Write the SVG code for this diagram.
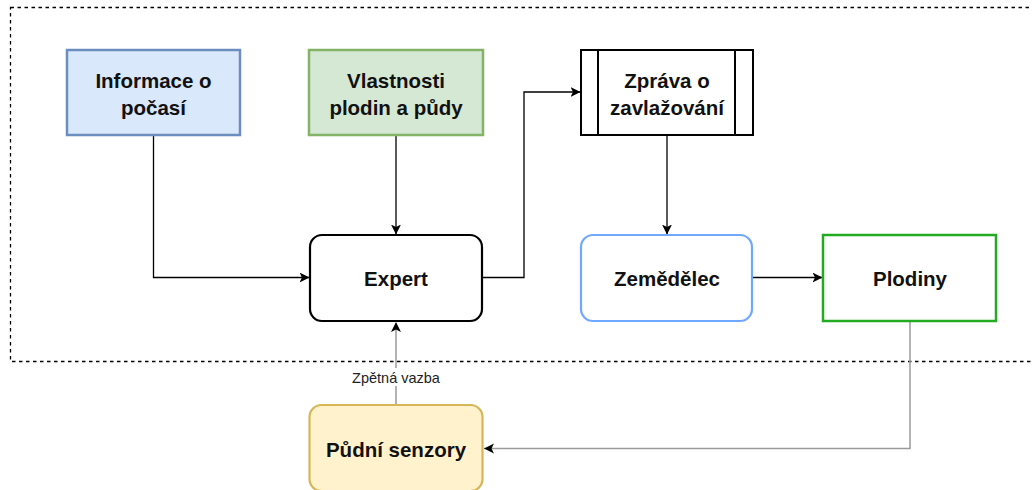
<svg xmlns="http://www.w3.org/2000/svg" width="1032" height="490" viewBox="0 0 1032 490">
  <defs>
    <style>
      .lbl { font-family: "Liberation Sans", Arial, sans-serif; font-weight: bold; font-size: 20.5px; fill: #111; text-anchor: middle; }
      .edge { fill: none; stroke: #000; stroke-width: 1.3; }
      .edge-grey { fill: none; stroke: #9a9a9a; stroke-width: 1.5; }
      .edge-lbl { font-family: "Liberation Sans", Arial, sans-serif; font-size: 14.5px; fill: #222; text-anchor: middle; }
    </style>
    <marker id="arrow" viewBox="0 0 10 10" refX="9.5" refY="5" markerWidth="10" markerHeight="10" markerUnits="userSpaceOnUse" orient="auto">
      <path d="M0,0 L10,5 L0,10 L2.5,5 Z" fill="#000"/>
    </marker>
  </defs>

  <rect width="1032" height="490" fill="#fff"/>

  <!-- system boundary -->
  <rect id="boundary" x="10.5" y="7.5" width="1040" height="354" fill="none" stroke="#000" stroke-width="1.3" stroke-dasharray="3.5 3.5"/>

  <!-- connectors -->
  <g id="connectors">
    <path class="edge" d="M153.5,135 V277.5 H309" marker-end="url(#arrow)"/>
    <path class="edge" d="M396,135 V234" marker-end="url(#arrow)"/>
    <path class="edge" d="M482,277.5 H524 V92 H580" marker-end="url(#arrow)"/>
    <path class="edge" d="M667,135 V234" marker-end="url(#arrow)"/>
    <path class="edge" d="M752,277.5 H822" marker-end="url(#arrow)"/>
    <path class="edge-grey" d="M910,321 V448.5 H484"/>
    <path d="M494,448.5 L484,443.5 L486.5,448.5 L484,453.5 Z" fill="#000" transform="rotate(180 489 448.5)"/>
    <path class="edge-grey" d="M396,405 V323"/>
    <path d="M396,322 L391,332 L396,329.5 L401,332 Z" fill="#000"/>
    <rect x="344" y="368" width="104" height="18" fill="#fff"/>
    <text class="edge-lbl" x="396" y="382.5">Zpětná vazba</text>
  </g>

  <g id="weather">
    <rect x="67" y="50" width="173" height="85" fill="#dae8fc" stroke="#6c8ebf" stroke-width="2.5"/>
    <text class="lbl" x="153.5" y="88">Informace o</text>
    <text class="lbl" x="153.5" y="115">počasí</text>
  </g>

  <g id="crop-soil">
    <rect x="309" y="50" width="174" height="85" fill="#d5e8d4" stroke="#82b366" stroke-width="2.5"/>
    <text class="lbl" x="396" y="88">Vlastnosti</text>
    <text class="lbl" x="396" y="115">plodin a půdy</text>
  </g>

  <g id="report">
    <rect x="581" y="50" width="172" height="85" fill="#fff" stroke="#000" stroke-width="2"/>
    <line x1="598" y1="50" x2="598" y2="135" stroke="#000" stroke-width="2"/>
    <line x1="735" y1="50" x2="735" y2="135" stroke="#000" stroke-width="2"/>
    <text class="lbl" x="667" y="88">Zpráva o</text>
    <text class="lbl" x="667" y="115">zavlažování</text>
  </g>

  <g id="expert">
    <rect x="310" y="235" width="172" height="86" rx="12" ry="12" fill="#fff" stroke="#000" stroke-width="2.2"/>
    <text class="lbl" x="396" y="285.5">Expert</text>
  </g>

  <g id="farmer">
    <rect x="581" y="235" width="171" height="86" rx="12" ry="12" fill="#fff" stroke="#70a8ff" stroke-width="2.2"/>
    <text class="lbl" x="667" y="285.5">Zemědělec</text>
  </g>

  <g id="crops">
    <rect x="823" y="235" width="173" height="86" fill="#fff" stroke="#22aa22" stroke-width="2.5"/>
    <text class="lbl" x="910" y="285.5">Plodiny</text>
  </g>

  <g id="soil-sensors">
    <rect x="309.5" y="405" width="173" height="86" rx="12" ry="12" fill="#fff2cc" stroke="#d6b656" stroke-width="2.2"/>
    <text class="lbl" x="396" y="456.5">Půdní senzory</text>
  </g>
</svg>
